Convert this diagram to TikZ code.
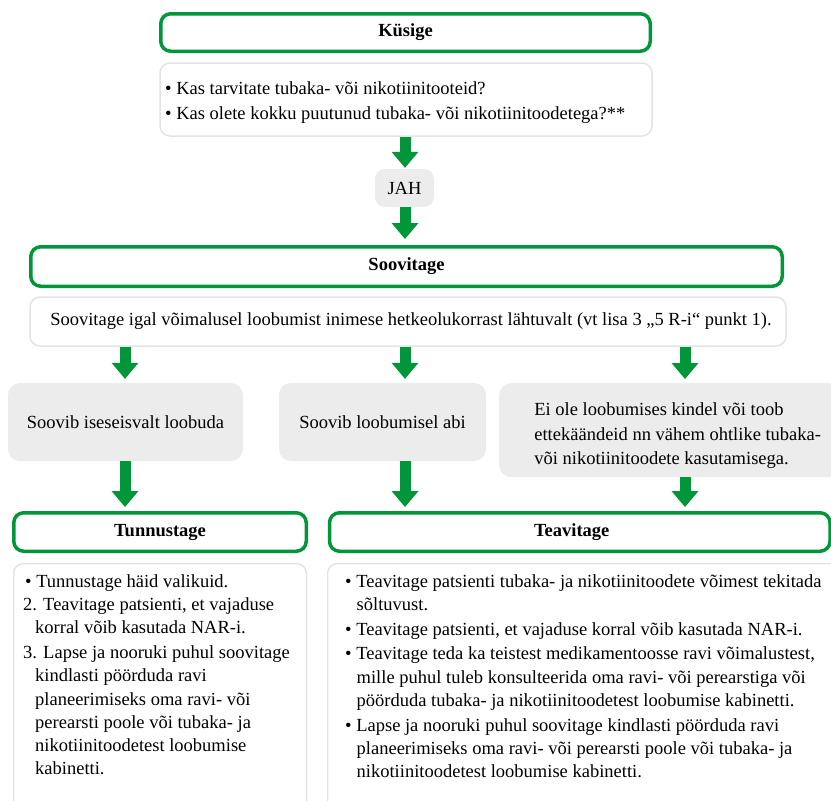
\documentclass[tikz,border=0pt]{standalone}
\usepackage{fontspec}
\setmainfont{Liberation Serif}
\usetikzlibrary{arrows.meta,positioning}

\definecolor{kgreen}{RGB}{0,150,57}
\definecolor{kgrey}{RGB}{236,236,236}
\definecolor{kline}{RGB}{228,228,228}

\begin{document}
\begin{tikzpicture}
	[x=1pt,y=-1pt,
	 font=\fontsize{18.5}{23.3}\selectfont,
	 head/.style={draw=kgreen, line width=3.5pt, rounded corners=10pt, fill=white,
	   inner sep=0pt, font=\fontsize{18.5}{23.3}\selectfont\bfseries},
	 whitebox/.style={draw=kline, line width=1.5pt, rounded corners=10pt, fill=white, inner sep=0pt},
	 greybox/.style={fill=kgrey, rounded corners=12pt, inner sep=0pt, align=left},
	 txt/.style={inner sep=0pt, align=left, anchor=north west},
	 bigarrow/.style={draw=kgreen, line width=11pt,
	   -{Triangle[width=27pt,length=16pt,line width=0pt]}, shorten >=4pt}]
	\clip (0,0) rectangle (831,801);
	\fill[white] (0,0) rectangle (831,801);

	% columns of the arrows
	\coordinate (c1) at (125,0);
	\coordinate (c2) at (405,0);
	\coordinate (c3) at (685,0);

	\node[head, minimum width=489.5pt, minimum height=37.5pt] (ask) at (405.5,32.5) {Küsige};
	\node[whitebox, minimum width=492pt, minimum height=73pt] (q) at (406,99.5) {};
	\node[txt] (qtext) at (165,81) {• Kas tarvitate tubaka- või nikotiinitooteid?\\[1.7pt]
		• Kas olete kokku puutunud tubaka- või nikotiinitoodetega?**};

	\node[fill=kgrey, rounded corners=10pt, minimum width=59pt, minimum height=38pt] (jah) at (404.5,188) {JAH};

	\node[head, minimum width=751.5pt, minimum height=39.5pt] (adv) at (406.5,266.5) {Soovitage};
	\node[whitebox, minimum width=756pt, minimum height=49pt] (sv) at (408,321.5)
		{\hspace*{6pt}Soovitage igal võimalusel loobumist inimese hetkeolukorrast lähtuvalt (vt lisa 3 „5 R-i“ punkt 1).};

	\node[greybox, minimum width=235pt, minimum height=78pt] (s1) at (125.5,422)
		{Soovib iseseisvalt loobuda};
	\node[greybox, minimum width=207pt, minimum height=78pt] (s2) at (382.5,422)
		{Soovib loobumisel abi};
	\node[greybox, anchor=north west, minimum width=357pt, minimum height=94pt] (s3) at (499,383)
		{\rule{0pt}{24pt}Ei ole loobumises kindel või toob\\[1pt]
		ettekäändeid nn vähem ohtlike tubaka-\\[1pt]
		või nikotiinitoodete kasutamisega.};

	\node[head, minimum width=292.5pt, minimum height=38.5pt] (ack) at (160,532) {Tunnustage};
	\node[head, anchor=west, minimum width=500.5pt, minimum height=38.5pt] (inf) at (327.75,532) {\hspace*{-16pt}Teavitage};

	\node[whitebox, anchor=north west, minimum width=293pt, minimum height=280pt] (ackbox) at (12.75,562.75) {};
	\node[whitebox, anchor=north west, minimum width=520pt, minimum height=280pt] (infbox) at (326.75,562.75) {};

	\node[txt] (acktext) at (23,574) {\hspace*{2pt}• Tunnustage häid valikuid.\\
		2. Teavitage patsienti, et vajaduse\\
		\hspace*{12pt}korral võib kasutada NAR-i.\\[1.5pt]
		3. Lapse ja nooruki puhul soovitage\\
		\hspace*{12pt}kindlasti pöörduda ravi\\
		\hspace*{12pt}planeerimiseks oma ravi- või\\
		\hspace*{12pt}perearsti poole või tubaka- ja\\
		\hspace*{12pt}nikotiinitoodetest loobumise\\
		\hspace*{12pt}kabinetti.};
	\node[txt] (inftext) at (345,574) {• Teavitage patsienti tubaka- ja nikotiinitoodete võimest tekitada\\
		\hspace*{11.5pt}sõltuvust.\\[1.5pt]
		• Teavitage patsienti, et vajaduse korral võib kasutada NAR-i.\\[1.5pt]
		• Teavitage teda ka teistest medikamentoosse ravi võimalustest,\\
		\hspace*{11.5pt}mille puhul tuleb konsulteerida oma ravi- või perearstiga või\\
		\hspace*{11.5pt}pöörduda tubaka- ja nikotiinitoodetest loobumise kabinetti.\\[1.5pt]
		• Lapse ja nooruki puhul soovitage kindlasti pöörduda ravi\\
		\hspace*{11.5pt}planeerimiseks oma ravi- või perearsti poole või tubaka- ja\\
		\hspace*{11.5pt}nikotiinitoodetest loobumise kabinetti.};

	\draw[bigarrow, shorten >=1pt] (q.south -| c2) -- (jah.north -| c2);
	\draw[bigarrow, shorten >=6pt] (jah.south -| c2) -- (adv.north -| c2);
	\draw[bigarrow] (sv.south -| c1) -- (s1.north -| c1);
	\draw[bigarrow] (sv.south -| c2) -- (s2.north -| c2);
	\draw[bigarrow] (sv.south -| c3) -- (s3.north -| c3);
	\draw[bigarrow] (s1.south -| c1) -- (ack.north -| c1);
	\draw[bigarrow] (s2.south -| c2) -- (inf.north -| c2);
	\draw[bigarrow] (s3.south -| c3) -- (inf.north -| c3);
\end{tikzpicture}
\end{document}
